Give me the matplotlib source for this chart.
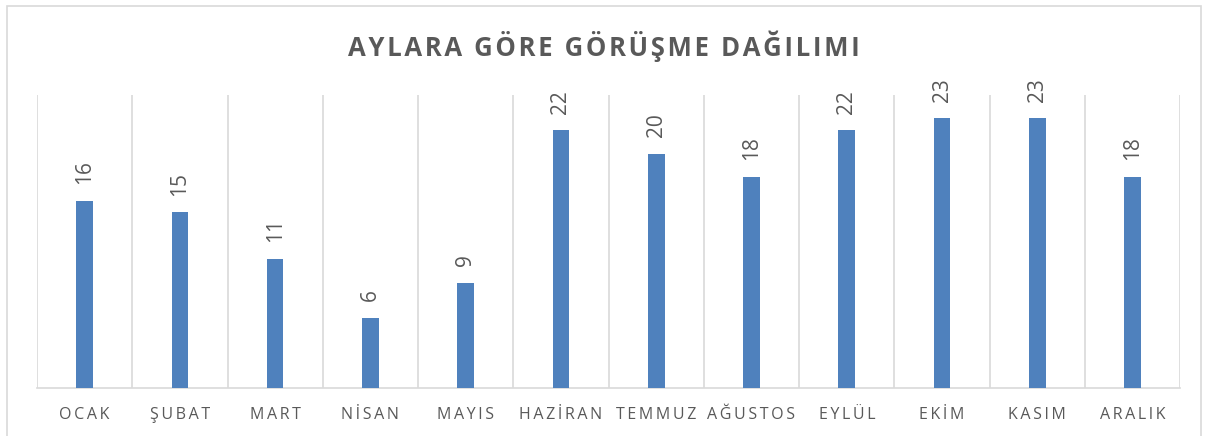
import numpy as np
import matplotlib.pyplot as plt
from matplotlib.patches import Rectangle

months = ["OCAK", "ŞUBAT", "MART", "NİSAN", "MAYIS", "HAZİRAN",
          "TEMMUZ", "AĞUSTOS", "EYLÜL", "EKİM", "KASIM", "ARALIK"]
counts = [16, 15, 11, 6, 9, 22, 20, 18, 22, 23, 23, 18]
title = "AYLARA GÖRE GÖRÜŞME DAĞILIMI"

plt.rcParams['font.family'] = ['Open Sans', 'DejaVu Sans']
gray = '#595959'
grid = '#D9D9D9'


def spaced(s, sep):
    return sep.join(s)


fig = plt.figure(figsize=(12.08, 4.36), dpi=100)
fig.patches.append(Rectangle((0.006, -0.01), 0.988, 0.996, transform=fig.transFigure,
                             fill=False, edgecolor=grid, linewidth=1.2))
ax = fig.add_axes([0.0306, 0.110, 0.9464, 0.672])

x = np.arange(len(months))
ax.bar(x, counts, width=0.175, color='#4F81BD', zorder=3)
for xi, v in zip(x, counts):
    ax.annotate(str(v), (xi, v), xytext=(0, 12), textcoords='offset points',
                rotation=90, ha='center', va='bottom', fontsize=15, color=gray)

ax.set_xlim(-0.5, 11.5)
ax.set_ylim(0, 25)
ax.set_yticks([])
ax.set_xticks(x)
ax.set_xticklabels([spaced(m, '\u2009') for m in months], fontsize=11.5, color=gray)
ax.set_xticks(np.arange(-0.5, 12, 1), minor=True)
ax.tick_params(axis='x', which='both', length=0, pad=14)
ax.grid(axis='x', which='minor', color=grid, linewidth=1.2, zorder=0)
for s in ['top', 'right', 'left']:
    ax.spines[s].set_visible(False)
ax.spines['bottom'].set_color(grid)
ax.spines['bottom'].set_linewidth(1.2)

fig.text(0.5, 0.895, spaced(title, '\u200a'), ha='center', va='center',
         fontsize=18.5, fontweight='bold', color=gray)

fig.savefig('out.png', dpi=100)
